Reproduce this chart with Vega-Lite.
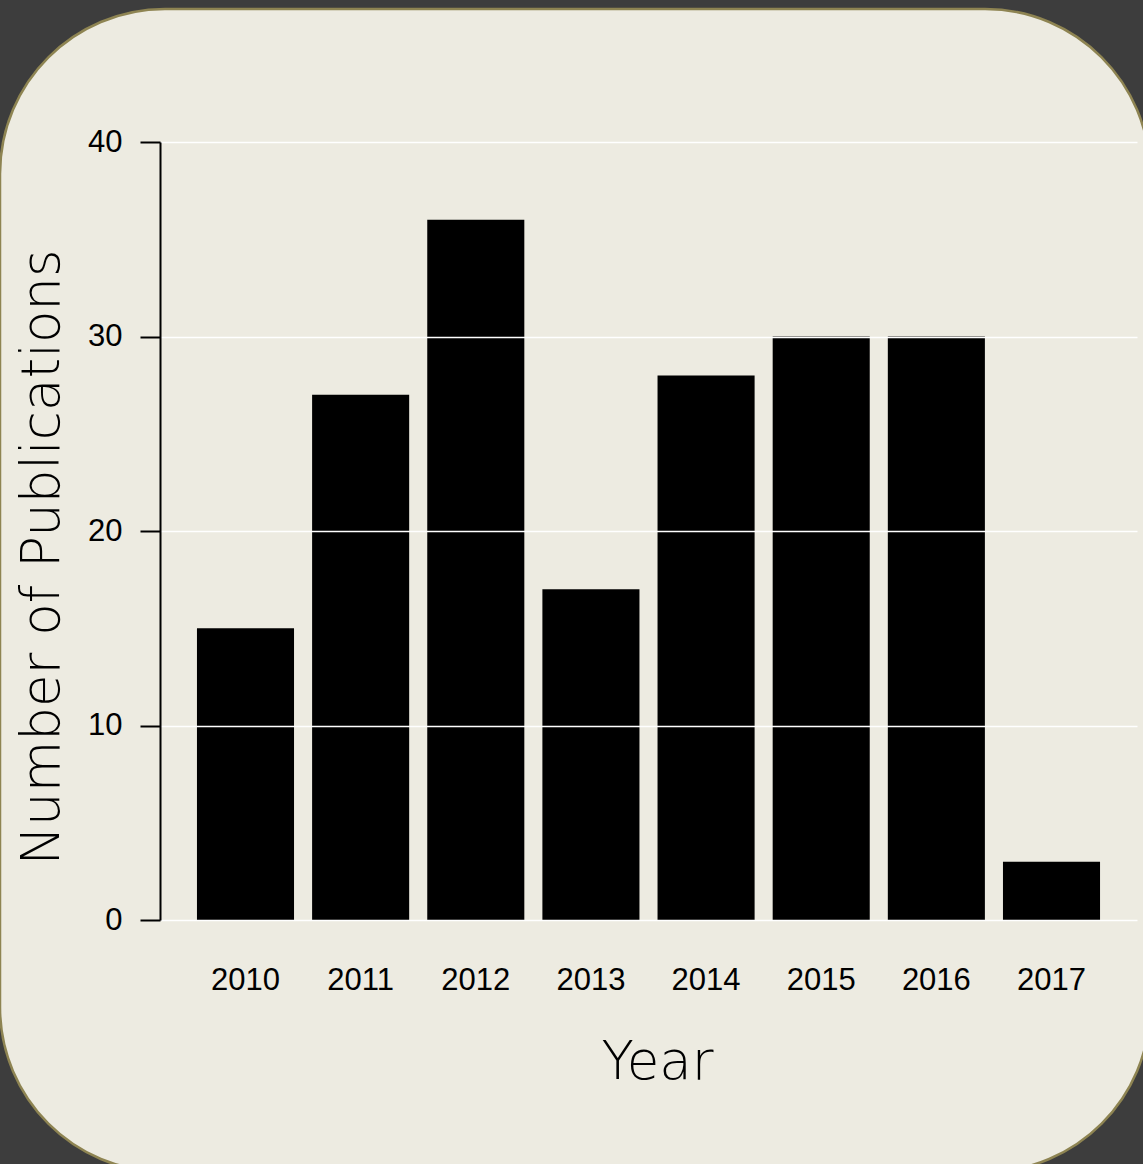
{
  "$schema": "https://vega.github.io/schema/vega-lite/v6.json",
  "autosize": {"type": "none"},
  "padding": {"left": 0, "top": 9, "right": 0, "bottom": 0},
  "width": 1150,
  "height": 1163,
  "background": "#3d3d3d",
  "config": {
    "view": {"fill": "#edebe1", "stroke": "#8e8452", "strokeWidth": 2.5, "cornerRadius": 165},
    "axis": {"labelFont": "Liberation Sans", "labelFontSize": 31, "labelColor": "#000000", "titleFont": "DejaVu Sans", "titleFontWeight": 200, "titleFontSize": 53, "titleColor": "#000000"}
  },
  "data": {
    "values": [
      {"Year": "2010", "Publications": 15},
      {"Year": "2011", "Publications": 27},
      {"Year": "2012", "Publications": 36},
      {"Year": "2013", "Publications": 17},
      {"Year": "2014", "Publications": 28},
      {"Year": "2015", "Publications": 30},
      {"Year": "2016", "Publications": 30},
      {"Year": "2017", "Publications": 3}
    ]
  },
  "mark": {"type": "bar", "color": "#000000"},
  "encoding": {
    "x": {
      "field": "Year", "type": "ordinal",
      "scale": {"range": [160, 1137], "paddingInner": 0.157, "paddingOuter": 0.321},
      "axis": {"orient": "bottom", "offset": -212, "domain": false, "ticks": false, "grid": false, "labelAngle": 0, "labelPadding": 5, "labelBaseline": "top", "title": "Year", "titleX": 657, "titleY": 118, "titleBaseline": "alphabetic", "titleAnchor": null}
    },
    "y": {
      "field": "Publications", "type": "quantitative",
      "scale": {"domain": [0, 40], "range": [911, 133], "nice": false},
      "axis": {"orient": "left", "offset": -160, "values": [0, 10, 20, 30, 40], "domain": true, "domainColor": "#000000", "domainWidth": 2, "ticks": true, "tickColor": "#000000", "tickWidth": 2, "tickSize": 20, "labelPadding": 18, "grid": true, "gridColor": "#ffffff", "gridWidth": 1.5, "gridOpacity": 1, "zindex": 1, "title": "Number of Publications", "titleX": -102, "titleY": 548, "titleAngle": 270, "titleBaseline": "alphabetic", "titleAlign": "center"}
    }
  }
}
